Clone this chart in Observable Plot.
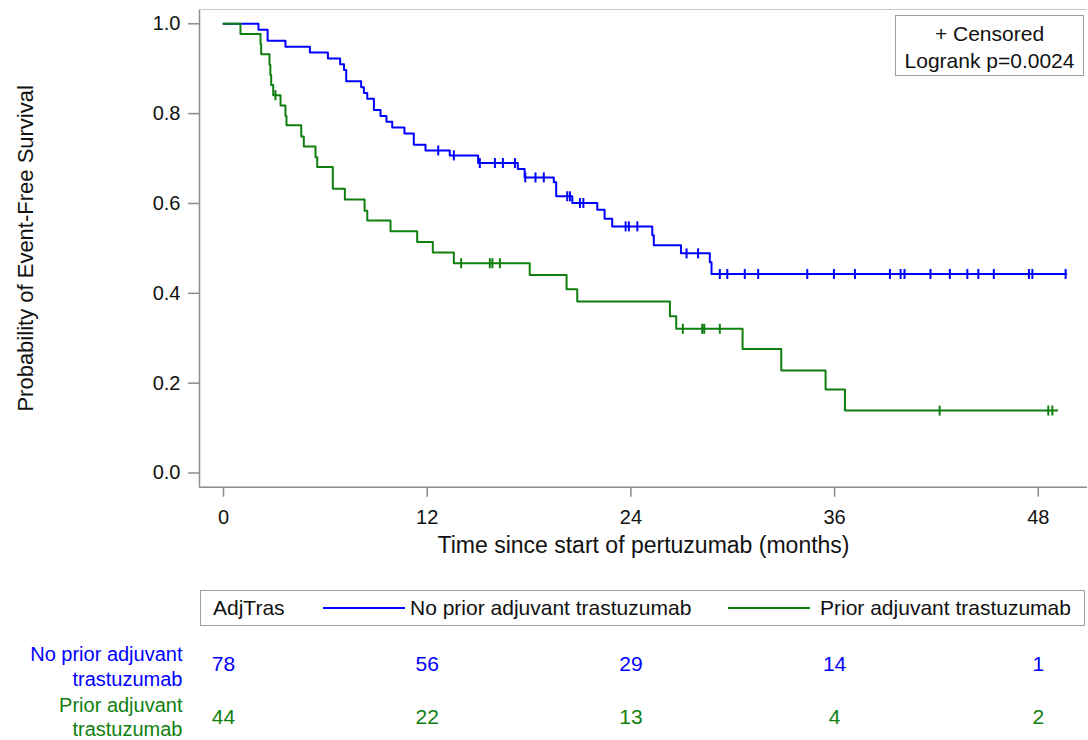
<!DOCTYPE html>
<html>
<head>
<meta charset="utf-8">
<script src="https://cdn.jsdelivr.net/npm/d3@7"></script>
<script src="https://cdn.jsdelivr.net/npm/@observablehq/plot@0.6"></script>
<style>
  body { margin: 0; background: #fff; font-family: "Liberation Sans", Arial, sans-serif; color: #111; }
  #wrap { position: relative; width: 1088px; height: 740px; overflow: hidden; background: #fff; }
  #wrap > * { position: absolute; }
  #main { left: 0; top: 0; }
  #risk { left: 0; top: 630px; }
  #legTR { left: 895px; top: 15px; width: 189px; height: 61px; border: 1px solid #a0a0a0; background: #fff;
           box-sizing: border-box; text-align: center; font-size: 21px; line-height: 27px; padding-top: 4px; color: #111; }
  #legB { left: 200px; top: 590px; width: 885px; height: 36px; border: 1px solid #a0a0a0; box-sizing: border-box; font-size: 21px; color: #111; }
  #legB span { position: absolute; top: 0; line-height: 34px; white-space: nowrap; }
  #legB .sw { position: absolute; top: 16px; height: 0; width: 82px; }
</style>
</head>
<body>
<div id="wrap">
  <div id="main"></div>
  <div id="legTR">+ Censored<br>Logrank p=0.0024</div>
  <div id="legB"></div>
  <div id="risk"></div>
</div>
<script>
// ---------- data ----------
const groups = ["No prior adjuvant trastuzumab", "Prior adjuvant trastuzumab"];
const groupColors = ["#0000ff", "#0f7f0f"];
const rowLabels = ["No prior adjuvant\ntrastuzumab", "Prior adjuvant\ntrastuzumab"];
const legendTitle = "AdjTras";

// No prior adjuvant trastuzumab: event times (months) and survival after each step
const noPriorTime = [0, 2.06, 2.6, 3.65, 5.09, 6.15, 6.87, 7.1, 7.23, 8.11, 8.27, 8.47, 8.86, 9.25, 9.6, 9.94, 10.66, 11.21, 11.9,
  13.33, 15.0, 17.34, 17.74, 19.46, 19.6, 20.55, 22.02, 22.45, 22.9, 25.26, 25.35, 26.95, 28.65, 28.75];
const noPriorSurv = [1, 0.987, 0.962, 0.949, 0.936, 0.923, 0.910, 0.897, 0.872, 0.859, 0.846, 0.833, 0.808, 0.795, 0.782, 0.769, 0.756, 0.731, 0.718,
  0.707, 0.690, 0.677, 0.658, 0.647, 0.616, 0.601, 0.586, 0.566, 0.549, 0.529, 0.507, 0.489, 0.469, 0.443];
const noPriorCensor = [12.65, 13.57, 15.1, 15.99, 16.46, 17.17, 17.78, 18.38, 18.87, 20.25, 20.41, 21.0, 21.2, 23.69, 23.88, 24.38,
  27.28, 27.96, 29.24, 29.68, 30.71, 31.5, 34.39, 35.96, 37.2, 39.26, 39.89, 40.12, 41.65, 42.79, 43.82, 44.47, 45.38, 47.45, 47.65, 49.61];
const noPriorEnd = 49.65;

// Prior adjuvant trastuzumab
const priorTime = [0, 1.0, 2.18, 2.22, 2.71, 2.76, 2.81, 2.93, 3.36, 3.65, 3.71, 4.58, 4.73, 5.42, 5.52, 6.44, 7.15, 8.31, 8.47, 9.84,
  11.41, 12.33, 13.57, 18.04, 20.21, 20.84, 26.3, 26.67, 30.58, 32.86, 35.47, 36.61];
const priorSurv = [1, 0.977, 0.955, 0.932, 0.909, 0.886, 0.864, 0.841, 0.818, 0.795, 0.774, 0.749, 0.727, 0.703, 0.681, 0.633, 0.609, 0.584, 0.562, 0.538,
  0.514, 0.491, 0.467, 0.441, 0.409, 0.382, 0.349, 0.321, 0.276, 0.228, 0.186, 0.139];
const priorCensor = [3.06, 14.0, 15.69, 15.84, 16.28, 27.06, 28.2, 28.32, 29.24, 42.19, 48.59, 48.83];
const priorEnd = 49.12;

// Numbers at risk
const riskTimes = [0, 12, 24, 36, 48];
const noPriorRisk = [78, 56, 29, 14, 1];
const priorRisk = [44, 22, 13, 4, 2];

const xTicks = [0, 12, 24, 36, 48];
const yTicks = [0, 0.2, 0.4, 0.6, 0.8, 1.0];
const xLabel = "Time since start of pertuzumab (months)";
const yLabel = "Probability of Event-Free Survival";

// ---------- derived tables ----------
function steps(times, surv, end, g) {
  const pts = times.map((t, i) => ({t, s: surv[i], g}));
  pts.push({t: end, s: surv[surv.length - 1], g});
  return pts;
}
function censored(times, surv, cens, g) {
  return cens.map(c => {
    let s = surv[0];
    for (let i = 0; i < times.length; i++) if (times[i] <= c) s = surv[i];
    return {t: c, s, g};
  });
}
const stepData = [
  ...steps(noPriorTime, noPriorSurv, noPriorEnd, groups[0]),
  ...steps(priorTime, priorSurv, priorEnd, groups[1])
];
const censorData = [
  ...censored(noPriorTime, noPriorSurv, noPriorCensor, groups[0]),
  ...censored(priorTime, priorSurv, priorCensor, groups[1])
];
const riskData = [
  ...riskTimes.map((t, i) => ({t, n: noPriorRisk[i], g: groups[0]})),
  ...riskTimes.map((t, i) => ({t, n: priorRisk[i], g: groups[1]}))
];
const rowData = groups.map((g, i) => ({g, label: rowLabels[i]}));

const xDomain = [-1.414, 50.9];
const yDomain = [-0.0316, 1.0318];
const gray = "#8c8c8c";
const font = '"Liberation Sans", Arial, sans-serif';
const colorScale = {domain: groups, range: groupColors};

const tickSymbol = {
  draw(context) { context.moveTo(0, -5); context.lineTo(0, 5); }
};

const main = Plot.plot({
  width: 1088, height: 580,
  marginLeft: 199, marginRight: 1, marginTop: 9, marginBottom: 93.3,
  x: {domain: xDomain},
  y: {domain: yDomain},
  color: colorScale,
  style: {fontFamily: font, fontSize: "20px", background: "white", color: "#111"},
  marks: [
    Plot.ruleX([xDomain[0]], {stroke: gray, strokeWidth: 1.5}),
    Plot.ruleY([yDomain[0]], {stroke: gray, strokeWidth: 1.5}),
    Plot.ruleY([yDomain[1]], {stroke: "#c8c8c8", strokeWidth: 1}),
    Plot.axisX({ticks: xTicks, tickSize: 10, tickPadding: 13, stroke: gray, strokeWidth: 1.5, fill: "#111", label: null, fontSize: 20}),
    Plot.axisY({ticks: yTicks, tickSize: 11, tickPadding: 8, tickFormat: d3.format(".1f"), stroke: gray, strokeWidth: 1.5, fill: "#111", label: null, fontSize: 20}),
    Plot.line(stepData, {x: "t", y: "s", z: "g", stroke: "g", curve: "step-after", strokeWidth: 2}),
    Plot.dot(censorData, {x: "t", y: "s", stroke: "g", fill: "none", symbol: tickSymbol, strokeWidth: 2}),
    Plot.text([xLabel], {frameAnchor: "bottom", dy: 66, fontSize: 23, fill: "#111"}),
    Plot.text([yLabel], {frameAnchor: "left", dx: -174, rotate: -90, textAnchor: "middle", fontSize: 22, fill: "#111"})
  ]
});
document.getElementById("main").appendChild(main);

const risk = Plot.plot({
  width: 1088, height: 110,
  marginLeft: 199, marginRight: 1, marginTop: 0, marginBottom: 0,
  x: {domain: xDomain, axis: null},
  y: {domain: groups, type: "point", range: [34, 87], padding: 0, axis: null},
  color: colorScale,
  style: {fontFamily: font, fontSize: "21px", background: "white"},
  marks: [
    Plot.text(riskData, {x: "t", y: "g", text: "n", fill: "g", fontSize: 21}),
    Plot.text(rowData.slice(0, 1), {y: "g", text: "label", fill: "g", frameAnchor: "left", dx: -17, dy: 1,
      textAnchor: "end", lineHeight: 1.25, fontSize: 20}),
    Plot.text(rowData.slice(1), {y: "g", text: "label", fill: "g", frameAnchor: "left", dx: -17, dy: -1,
      textAnchor: "end", lineHeight: 1.2, fontSize: 20})
  ]
});
document.getElementById("risk").appendChild(risk);

// bottom legend
const legB = document.getElementById("legB");
function addText(left, text) {
  const el = document.createElement("span");
  el.style.left = left + "px";
  el.textContent = text;
  legB.appendChild(el);
}
function addSwatch(left, color) {
  const el = document.createElement("div");
  el.className = "sw";
  el.style.left = left + "px";
  el.style.borderTop = "2px solid " + color;
  legB.appendChild(el);
}
addText(12, legendTitle);
addSwatch(122, groupColors[0]);
addText(209, groups[0]);
addSwatch(527, groupColors[1]);
addText(619, groups[1]);
</script>
</body>
</html>
